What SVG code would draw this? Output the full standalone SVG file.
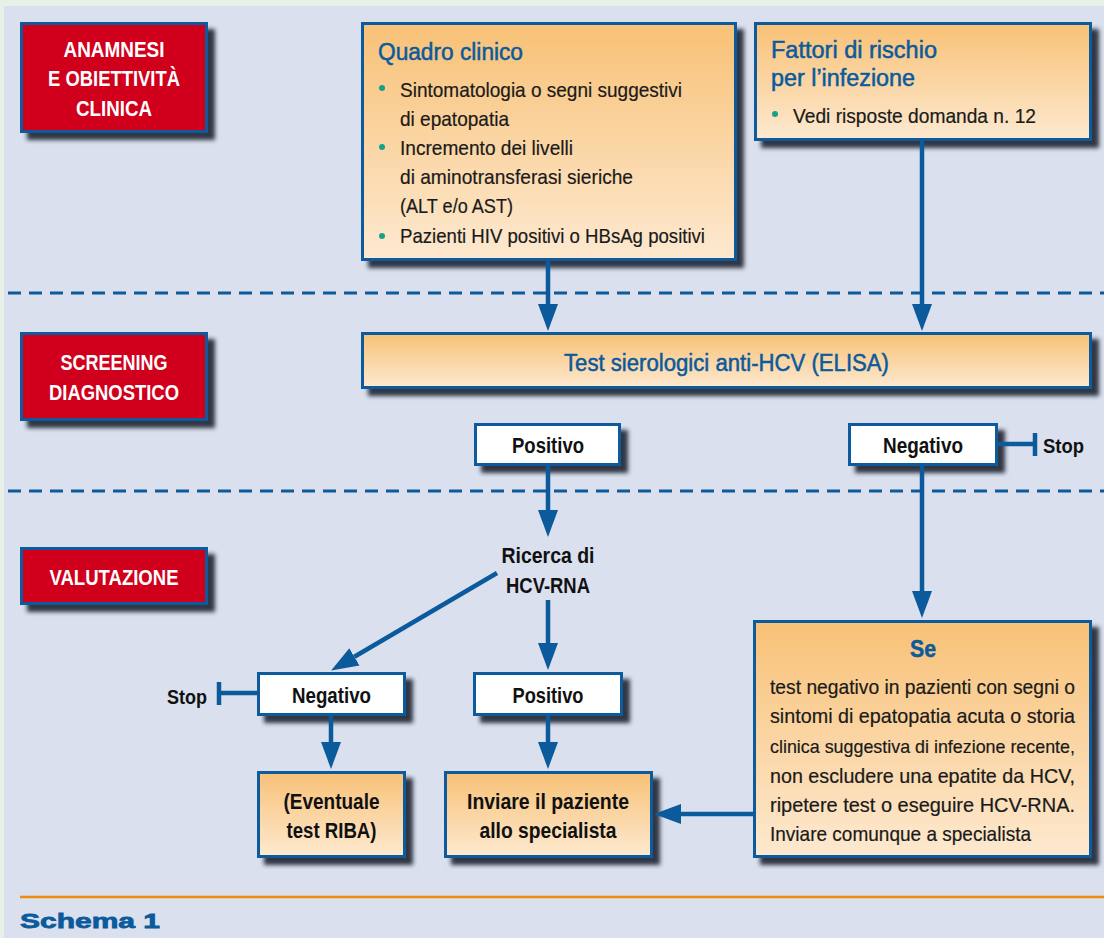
<svg xmlns="http://www.w3.org/2000/svg" width="1104" height="938" viewBox="0 0 1104 938">
<defs>
<linearGradient id="og" x1="0" y1="0" x2="0" y2="1">
<stop offset="0" stop-color="#f8c176"/>
<stop offset="1" stop-color="#fde9d0"/>
</linearGradient>
<filter id="sh" x="-5%" y="-10%" width="120%" height="150%">
<feDropShadow dx="7" dy="7" stdDeviation="2.2" flood-color="#1c2030" flood-opacity="0.9"/>
</filter>
<marker id="ah" markerUnits="userSpaceOnUse" markerWidth="27" markerHeight="21" refX="0" refY="10" orient="auto" viewBox="0 0 27 20">
<path d="M0,0 L27,10 L0,20 Z" fill="#0b5a9c"/>
</marker>
</defs>
<style>
text{font-family:"Liberation Sans Narrow","Liberation Sans",Arial,sans-serif}
.red{fill:#d0021b;stroke:#0b5a9c;stroke-width:3}
.org{fill:url(#og);stroke:#0b5a9c;stroke-width:3}
.wht{fill:#ffffff;stroke:#0b5a9c;stroke-width:3}
.rt{fill:#ffffff;font-weight:bold;font-size:22px;text-anchor:middle}
.tt{fill:#0b5a9c;font-size:23px;stroke:#0b5a9c;stroke-width:0.5}
.bt{fill:#1a1a1a;font-size:21px;stroke:#1a1a1a;stroke-width:0.2}
.st{fill:#111111;font-size:21px}
.mt{fill:#111111;font-size:22px;font-weight:bold;text-anchor:middle}
.bul{fill:#17a08c}
.c{stroke:#0b5a9c;stroke-width:4.5;fill:none}
.dash{stroke:#0b5a9c;stroke-width:3;stroke-dasharray:13 8;fill:none}
</style>

<rect x="0" y="0" width="1104" height="938" fill="#e7f1e7"/>
<rect x="4" y="6" width="1100" height="932" fill="#dae0ee"/>

<g id="dividers">
<line class="dash" x1="8" y1="293" x2="1104" y2="293"/>
<line class="dash" x1="8" y1="491" x2="1104" y2="491"/>
</g>

<g id="anamnesi">
<rect class="red" x="21.5" y="23.5" width="185" height="108" filter="url(#sh)"/>
<text class="rt" x="114" y="57" textLength="101" lengthAdjust="spacingAndGlyphs">ANAMNESI</text>
<text class="rt" x="114" y="86" textLength="132" lengthAdjust="spacingAndGlyphs">E OBIETTIVITÀ</text>
<text class="rt" x="114" y="116" textLength="76" lengthAdjust="spacingAndGlyphs">CLINICA</text>
</g>

<g id="screening">
<rect class="red" x="21.5" y="333.5" width="185" height="86" filter="url(#sh)"/>
<text class="rt" x="114" y="370" textLength="107" lengthAdjust="spacingAndGlyphs">SCREENING</text>
<text class="rt" x="114" y="400" textLength="130" lengthAdjust="spacingAndGlyphs">DIAGNOSTICO</text>
</g>

<g id="valutazione">
<rect class="red" x="21.5" y="548.5" width="185" height="55" filter="url(#sh)"/>
<text class="rt" x="114" y="585" textLength="129" lengthAdjust="spacingAndGlyphs">VALUTAZIONE</text>
</g>

<g id="quadro">
<rect class="org" x="362.5" y="23.5" width="373" height="236" filter="url(#sh)"/>
<text class="tt" x="378" y="60" textLength="145" lengthAdjust="spacingAndGlyphs">Quadro clinico</text>
<circle class="bul" cx="382" cy="88" r="3"/>
<text class="bt" x="400" y="97" textLength="282" lengthAdjust="spacingAndGlyphs">Sintomatologia o segni suggestivi</text>
<text class="bt" x="400" y="126" textLength="109" lengthAdjust="spacingAndGlyphs">di epatopatia</text>
<circle class="bul" cx="382" cy="147" r="3"/>
<text class="bt" x="400" y="155" textLength="173" lengthAdjust="spacingAndGlyphs">Incremento dei livelli</text>
<text class="bt" x="400" y="184" textLength="233" lengthAdjust="spacingAndGlyphs">di aminotransferasi sieriche</text>
<text class="bt" x="400" y="213" textLength="113" lengthAdjust="spacingAndGlyphs">(ALT e/o AST)</text>
<circle class="bul" cx="382" cy="236" r="3"/>
<text class="bt" x="400" y="243" textLength="305" lengthAdjust="spacingAndGlyphs">Pazienti HIV positivi o HBsAg positivi</text>
</g>

<g id="fattori">
<rect class="org" x="755.5" y="23.5" width="335" height="116" filter="url(#sh)"/>
<text class="tt" x="771" y="58" textLength="166" lengthAdjust="spacingAndGlyphs">Fattori di rischio</text>
<text class="tt" x="771" y="86" textLength="144" lengthAdjust="spacingAndGlyphs">per l’infezione</text>
<circle class="bul" cx="775" cy="114" r="3"/>
<text class="bt" x="793" y="123" textLength="243" lengthAdjust="spacingAndGlyphs">Vedi risposte domanda n. 12</text>
</g>

<g id="test">
<rect class="org" x="362.5" y="333.5" width="728" height="54" filter="url(#sh)"/>
<text class="tt" x="726.5" y="371" text-anchor="middle" textLength="325" lengthAdjust="spacingAndGlyphs">Test sierologici anti-HCV (ELISA)</text>
</g>

<g id="positivo1">
<rect class="wht" x="475.5" y="424.5" width="144" height="40" filter="url(#sh)"/>
<text class="mt" x="548" y="453" textLength="72" lengthAdjust="spacingAndGlyphs">Positivo</text>
</g>

<g id="negativo1">
<rect class="wht" x="849.5" y="424.5" width="147" height="40" filter="url(#sh)"/>
<text class="mt" x="923" y="453" textLength="80" lengthAdjust="spacingAndGlyphs">Negativo</text>
</g>

<g id="stop1">
<text class="st" x="1043" y="453" font-weight="bold" textLength="41" lengthAdjust="spacingAndGlyphs">Stop</text>
</g>

<g id="ricerca">
<text class="mt" x="548" y="563" textLength="93" lengthAdjust="spacingAndGlyphs">Ricerca di</text>
<text class="mt" x="548" y="593" textLength="84" lengthAdjust="spacingAndGlyphs">HCV-RNA</text>
</g>

<g id="negativo2">
<rect class="wht" x="258.5" y="673.5" width="146" height="41" filter="url(#sh)"/>
<text class="mt" x="331.5" y="703" textLength="79" lengthAdjust="spacingAndGlyphs">Negativo</text>
</g>

<g id="stop2">
<text class="st" x="167" y="704" font-weight="bold" textLength="40" lengthAdjust="spacingAndGlyphs">Stop</text>
</g>

<g id="positivo2">
<rect class="wht" x="474.5" y="673.5" width="147" height="41" filter="url(#sh)"/>
<text class="mt" x="548" y="703" textLength="71" lengthAdjust="spacingAndGlyphs">Positivo</text>
</g>

<g id="eventuale">
<rect class="org" x="258.5" y="772.5" width="146" height="84" filter="url(#sh)"/>
<text class="mt" x="331.5" y="809" textLength="96" lengthAdjust="spacingAndGlyphs">(Eventuale</text>
<text class="mt" x="331.5" y="838" textLength="90" lengthAdjust="spacingAndGlyphs">test RIBA)</text>
</g>

<g id="inviare">
<rect class="org" x="445.5" y="772.5" width="206" height="84" filter="url(#sh)"/>
<text class="mt" x="548" y="809" textLength="162" lengthAdjust="spacingAndGlyphs">Inviare il paziente</text>
<text class="mt" x="548" y="838" textLength="137" lengthAdjust="spacingAndGlyphs">allo specialista</text>
</g>

<g id="se">
<rect class="org" x="754.5" y="621.5" width="336" height="235" filter="url(#sh)"/>
<text class="tt" x="923" y="657" text-anchor="middle" font-weight="bold" textLength="26" lengthAdjust="spacingAndGlyphs">Se</text>
<text class="bt" x="770" y="694" textLength="305" lengthAdjust="spacingAndGlyphs">test negativo in pazienti con segni o</text>
<text class="bt" x="770" y="723" textLength="305" lengthAdjust="spacingAndGlyphs">sintomi di epatopatia acuta o storia</text>
<text class="bt" x="770" y="753" font-size="18.5" textLength="305" lengthAdjust="spacingAndGlyphs" style="font-size:18.5px">clinica suggestiva di infezione recente,</text>
<text class="bt" x="770" y="783" textLength="305" lengthAdjust="spacingAndGlyphs">non escludere una epatite da HCV,</text>
<text class="bt" x="770" y="812" textLength="305" lengthAdjust="spacingAndGlyphs">ripetere test o eseguire HCV-RNA.</text>
<text class="bt" x="770" y="841" textLength="261" lengthAdjust="spacingAndGlyphs">Inviare comunque a specialista</text>
</g>

<g id="connectors">
<line class="c" x1="548" y1="261" x2="548" y2="304" marker-end="url(#ah)"/>
<line class="c" x1="922" y1="141" x2="922" y2="304" marker-end="url(#ah)"/>
<line class="c" x1="548" y1="466" x2="548" y2="510" marker-end="url(#ah)"/>
<line class="c" x1="922" y1="466" x2="922" y2="591" marker-end="url(#ah)"/>
<line class="c" x1="497" y1="573" x2="354.4" y2="656.8" marker-end="url(#ah)"/>
<line class="c" x1="548" y1="600" x2="548" y2="643" marker-end="url(#ah)"/>
<line class="c" x1="331" y1="716" x2="331" y2="742" marker-end="url(#ah)"/>
<line class="c" x1="548" y1="716" x2="548" y2="742" marker-end="url(#ah)"/>
<line class="c" x1="753" y1="814" x2="681" y2="814" marker-end="url(#ah)"/>
<line class="c" x1="998" y1="444" x2="1035" y2="444"/>
<line class="c" x1="1035" y1="433" x2="1035" y2="456"/>
<line class="c" x1="219" y1="693" x2="257" y2="693"/>
<line class="c" x1="219" y1="682" x2="219" y2="705"/>
</g>

<g id="footer">
<line x1="20" y1="897" x2="1104" y2="897" stroke="#ef8c0e" stroke-width="2.5"/>
<text x="20" y="928" fill="#0b5a9c" stroke="#0b5a9c" stroke-width="0.8" font-size="21" font-weight="bold" font-family="'DejaVu Sans','Liberation Sans',sans-serif" textLength="140" lengthAdjust="spacingAndGlyphs">Schema 1</text>
</g>
</svg>
